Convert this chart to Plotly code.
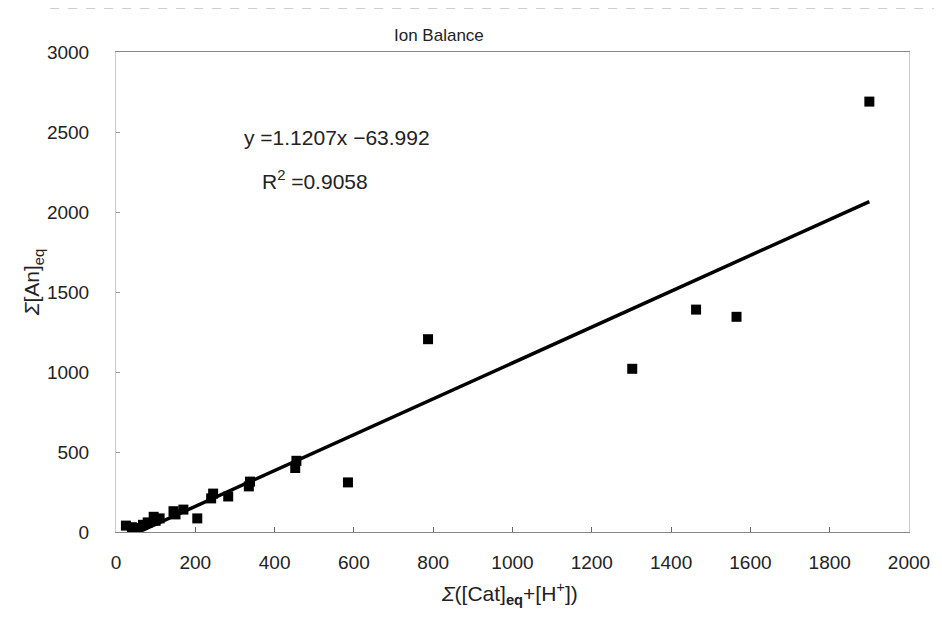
import plotly.graph_objects as go

# Data
cat_sum = [25, 40, 55, 68, 80, 95, 100, 110, 145, 150, 170, 205, 240, 245, 283,
           335, 338, 452, 455, 585, 787, 1302, 1463, 1565, 1900]
an_sum = [40, 30, 25, 45, 60, 95, 70, 85, 130, 110, 140, 85, 210, 240, 222,
          285, 315, 400, 445, 310, 1205, 1020, 1390, 1345, 2690]

slope = 1.1207
intercept = -63.992
r_squared = 0.9058

x_ticks = [0, 200, 400, 600, 800, 1000, 1200, 1400, 1600, 1800, 2000]
y_ticks = [0, 500, 1000, 1500, 2000, 2500, 3000]

fit_x = [min(cat_sum), max(cat_sum)]
fit_y = [slope * v + intercept for v in fit_x]

FONT = "Liberation Sans, Arial, sans-serif"
TXT = "#222"

# plot area in page pixels: x 116..911, y 52..532 (page has 8px body margin)
def px(xp):
    return (xp - 116) / 795

def py(yp):
    return (532 - yp) / 480

fig = go.Figure()
fig.add_trace(go.Scatter(
    x=fit_x, y=fit_y, mode="lines",
    line=dict(color="black", width=3.5), showlegend=False, hoverinfo="skip"))
fig.add_trace(go.Scatter(
    x=cat_sum, y=an_sum, mode="markers",
    marker=dict(symbol="square", size=10, color="black"),
    showlegend=False, cliponaxis=False))

fig.update_layout(
    width=934, height=620,
    margin=dict(l=108, r=31, t=44, b=96),
    paper_bgcolor="white", plot_bgcolor="white",
    font=dict(family=FONT, color=TXT, size=19),
    xaxis=dict(range=[0, 2000], tickvals=x_ticks, showgrid=False, zeroline=False,
               showline=True, linecolor="#888", linewidth=1, mirror=True,
               ticks="inside", ticklen=5, tickcolor="#666",
               ticklabelstandoff=13, tickfont=dict(size=19)),
    yaxis=dict(range=[0, 3000], tickvals=y_ticks, showgrid=False, zeroline=False,
               showline=True, linecolor="#ccc", linewidth=1, mirror=True,
               ticks="inside", ticklen=4, tickcolor="#999",
               ticklabelstandoff=22, tickfont=dict(size=19)),
    annotations=[
        dict(text="Ion Balance", xref="paper", yref="paper",
             x=px(440), y=py(36), xanchor="center", yanchor="middle",
             showarrow=False, font=dict(size=17)),
        dict(text="<i>Σ</i>([Cat]<sub><b>eq</b></sub>+[H<sup>+</sup>])",
             xref="paper", yref="paper", x=px(510), y=py(593),
             xanchor="center", yanchor="middle", showarrow=False,
             font=dict(size=21)),
        dict(text="<i>Σ</i>[An]<sub>eq</sub>", xref="paper", yref="paper",
             x=px(33), y=py(283), textangle=-90,
             showarrow=False, font=dict(size=21), xanchor="center", yanchor="middle"),
        dict(text="y =1.1207x −63.992", xref="paper", yref="paper",
             x=px(242), y=py(137), xanchor="left", yanchor="middle",
             showarrow=False, font=dict(size=21)),
        dict(text="R<sup>2</sup> =0.9058", xref="paper", yref="paper",
             x=px(260), y=py(180), xanchor="left", yanchor="middle",
             showarrow=False, font=dict(size=21)),
    ],
    shapes=[
        dict(type="line", xref="paper", yref="paper",
             x0=px(50), x1=px(942), y0=py(8), y1=py(8),
             line=dict(color="#999", width=1, dash="dash")),
        dict(type="line", xref="paper", yref="paper",
             x0=px(5), x1=px(5), y0=py(8), y1=py(620),
             line=dict(color="#ddd", width=1, dash="dot")),
    ],
)

fig.write_html("out.html")
